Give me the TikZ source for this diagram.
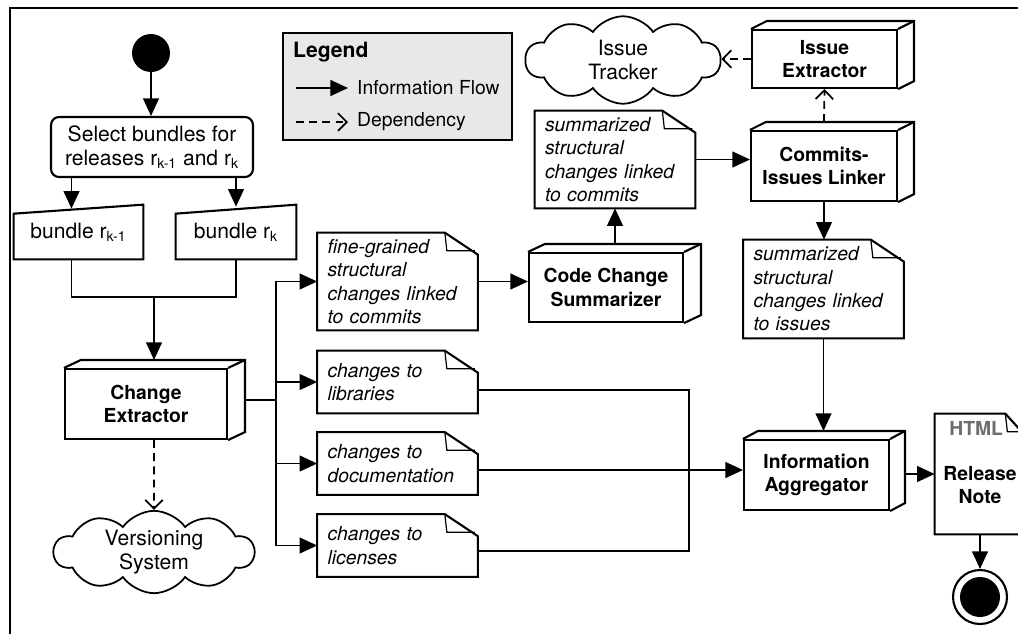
\documentclass[tikz,border=0pt]{standalone}
\usepackage{fontspec}
\setmainfont{TeX Gyre Heros}
\usepackage{tikz}
\usetikzlibrary{arrows.meta,shapes.symbols}
\definecolor{legendgray}{RGB}{232,232,232}
\definecolor{taggray}{RGB}{110,110,110}

\newcommand{\boxfaces}[2]{%
    \draw[boxline] (#1.north west) -- ++(#2,-8) -| ([shift={(#2,-8)}]#1.south east) -- (#1.south east);
    \draw[boxline] (#1.north east) -- ++(#2,-8);}
\newcommand{\noteframe}[3]{%
    \draw[boxline] ([shift={(-#2,0)}]#1.north east) -- (#1.north west) -- (#1.south west) -- (#1.south east) -- ([shift={(0,#3)}]#1.north east) -- cycle;
    \draw[foldline] ([shift={(-#2,0)}]#1.north east) -- ([shift={(-#2+2,#3-4)}]#1.north east) -- ([shift={(-3,#3-4)}]#1.north east);}
\newcommand{\bundleframe}[1]{%
    \draw[boxline] (#1.south west) -- ([shift={(0,9)}]#1.north west) -- (#1.north east) -- (#1.south east) -- cycle;}

\begin{document}
\begin{tikzpicture}[x=0.02cm,y=-0.02cm,
    boxline/.style={line width=1.2pt},
    foldline/.style={line width=0.7pt},
    edge/.style={line width=1pt},
    flow/.style={edge,-{Triangle[length=10pt,width=9pt]}},
    depend/.style={edge,dash pattern=on 4.5pt off 3pt,-{Straight Barb[length=5pt,width=10pt]}},
    plain/.style={font=\fontsize{12}{14}\selectfont,align=center},
    tool/.style={draw,boxline,fill=white,font=\fontsize{11}{13.5}\selectfont\bfseries,align=center,inner sep=0pt},
    artefact/.style={font=\fontsize{11}{13.3}\selectfont\itshape,align=left,text width=2.8cm,inner xsep=0.2cm,inner ysep=0pt},
    bundlebox/.style={plain,minimum height=1.08cm,inner sep=0pt},
    cloudy/.style={cloud,draw,edge,cloud puffs=10,cloud puff arc=110,cloud ignores aspect,plain,inner sep=0pt}]

    \useasboundingbox (0,0) rectangle (1018,633);
    \draw[line width=1.4pt] (10,650) -- (10,8) -- (1040,8);

    \node[fill,circle,minimum size=0.76cm,inner sep=0pt] (start) at (151,53) {};
    \node[draw,boxline,rounded corners=0.16cm,minimum width=4.04cm,minimum height=1.2cm,plain] (select) at (152,147) {Select bundles for\\releases r\textsubscript{k-1} and r\textsubscript{k}};
    \draw[flow] (start.south) -- (start.south |- select.north);

    \node[bundlebox,minimum width=2.58cm] (bundlePrev) at (78.5,232) {bundle r\textsubscript{k-1}};
    \node[bundlebox,minimum width=2.4cm] (bundleCur) at (236,232) {bundle r\textsubscript{k}};
    \bundleframe{bundlePrev}
    \bundleframe{bundleCur}
    \coordinate (prevTop) at ([xshift=-0.14cm]bundlePrev.north);
    \draw[flow] (select.south -| prevTop) -- ([yshift=-0.08cm]prevTop);
    \draw[flow] (select.south -| bundleCur.north) -- ([yshift=-0.04cm]bundleCur.north);

    \node[tool,minimum width=3.24cm,minimum height=1.4cm] (extractor) at (146,404) {Change\\Extractor};
    \boxfaces{extractor}{17}
    \coordinate (bundlesJoin) at (154,297);
    \draw[edge] ([xshift=-0.14cm]bundlePrev.south) |- (bundlesJoin) -| (bundleCur.south);
    \draw[flow] (bundlesJoin) -- ([shift={(8,-8)}]extractor.north);

    \node[cloudy,minimum width=4cm,minimum height=1.6cm] (vcs) at (154,552) {Versioning\\System};
    \draw[depend] ([xshift=0.16cm]extractor.south) -- (vcs.north);

    \node[artefact,minimum height=1.94cm] (fineDoc) at (397.5,281.5) {fine-grained\\structural\\changes linked\\to commits};
    \node[artefact,minimum height=1.24cm] (libDoc) at (397.5,382) {changes to\\libraries};
    \node[artefact,minimum height=1.24cm] (docuDoc) at (397.5,463.5) {changes to\\documentation};
    \node[artefact,minimum height=1.24cm] (licDoc) at (397.5,545.5) {changes to\\licenses};
    \noteframe{fineDoc}{33}{22}
    \noteframe{libDoc}{33}{22}
    \noteframe{docuDoc}{33}{22}
    \noteframe{licDoc}{33}{22}

    \coordinate (fanout) at (276,400);
    \draw[edge] ([shift={(17,-4)}]extractor.east) -- (fanout);
    \draw[flow] (fanout) |- (fineDoc.west);
    \draw[flow] (fanout) |- (libDoc.west);
    \draw[flow] (fanout) |- (docuDoc.west);
    \draw[flow] (fanout) |- (licDoc.west);

    \node[tool,minimum width=3.08cm,minimum height=1.38cm] (summarizer) at (606,287.5) {Code Change\\Summarizer};
    \boxfaces{summarizer}{17}
    \draw[flow] (fineDoc.east) -- (fineDoc.east -| summarizer.west);

    \node[artefact,minimum height=1.94cm] (commitDoc) at (615,159.5) {summarized\\structural\\changes linked\\to commits};
    \noteframe{commitDoc}{33}{22}
    \draw[flow] (commitDoc.south |- summarizer.north) ++(0,-8) -- (commitDoc.south);

    \node[tool,minimum width=2.92cm,minimum height=1.4cm] (linker) at (824,166) {Commits-\\Issues Linker};
    \boxfaces{linker}{16}
    \draw[flow] (commitDoc.east) -- (commitDoc.east -| linker.west);

    \node[tool,minimum width=2.9cm,minimum height=1.16cm] (issueExtractor) at (824.5,59) {Issue\\Extractor};
    \boxfaces{issueExtractor}{16}
    \draw[depend] (linker.north) ++(0,-8) -- (issueExtractor.south);

    \node[cloudy,minimum width=3.9cm,minimum height=1.75cm] (tracker) at (623,60) {Issue\\Tracker};
    \draw[depend] (issueExtractor.west) -- (issueExtractor.west -| tracker.east);

    \node[artefact,minimum height=1.96cm] (issueDoc) at (823.5,289) {summarized\\structural\\changes linked\\to issues};
    \noteframe{issueDoc}{33}{22}
    \draw[flow] (linker.south) -- (linker.south |- issueDoc.north);

    \node[tool,minimum width=2.9cm,minimum height=1.4cm] (aggregator) at (816.5,475) {Information\\Aggregator};
    \boxfaces{aggregator}{15}
    \coordinate (aggTop) at ([yshift=0.16cm]aggregator.north);
    \draw[flow] (issueDoc.south) -- (issueDoc.south |- aggTop);

    \coordinate (docuOut) at ([yshift=-0.13cm]docuDoc.east);
    \coordinate (sideJoin) at (689,470);
    \draw[edge] ([yshift=-0.16cm]libDoc.east) -| (sideJoin) |- ([yshift=-0.11cm]licDoc.east);
    \draw[flow] (docuOut) -- (docuOut -| aggregator.west);

    \node[minimum width=1.8cm,minimum height=2.4cm] (releaseNote) at (980,474) {};
    \noteframe{releaseNote}{20}{22}
    \node[font=\fontsize{11}{13}\selectfont\bfseries,text=taggray,anchor=north east,inner sep=0pt] (htmlTag) at ([shift={(-22,7)}]releaseNote.north east) {HTML};
    \node[font=\fontsize{11}{13.5}\selectfont\bfseries,align=center] (noteText) at ([yshift=-0.22cm]releaseNote.center) {Release\\Note};
    \draw[flow] ([shift={(15,-1)}]aggregator.east) -- (releaseNote.west);

    \node[draw,boxline,circle,minimum size=1.08cm,inner sep=0pt] (finish) at (980,597) {};
    \fill (finish.center) circle (0.4cm);
    \draw[flow] (releaseNote.south) -- (finish.north);

    \node[draw,line width=0.9pt,fill=legendgray,minimum width=4.58cm,minimum height=2.14cm] (legend) at (397.5,86.5) {};
    \node[anchor=west,font=\fontsize{12}{14}\selectfont\bfseries] (legendTitle) at (287,52) {Legend};
    \coordinate (flowFrom) at (296,88);
    \coordinate (flowTo) at (348,88);
    \coordinate (dependFrom) at (296,122);
    \coordinate (dependTo) at (348,122);
    \draw[flow] (flowFrom) -- (flowTo);
    \draw[depend] (dependFrom) -- (dependTo);
    \node[anchor=west,font=\fontsize{11}{13}\selectfont] (flowText) at (351,88) {Information Flow};
    \node[anchor=west,font=\fontsize{11}{13}\selectfont] (dependText) at (351,122) {Dependency};
\end{tikzpicture}
\end{document}
